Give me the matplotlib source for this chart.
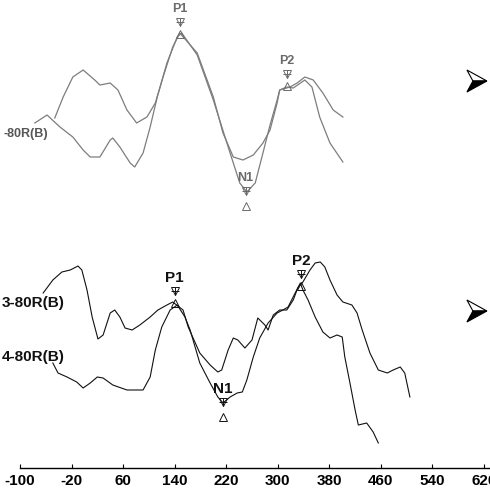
import numpy as np
import matplotlib.pyplot as plt
from matplotlib.patches import Polygon
from matplotlib.transforms import offset_copy, ScaledTranslation

plt.rcParams['font.family'] = ['Liberation Sans', 'DejaVu Sans']

# latency (ms) / amplitude (uV, relative to the trace baseline)
top_a_ms = [-46, -33, -18, -2, 16, 24, 40, 52, 66, 81, 97, 110, 122, 137, 148,
            175, 200, 215, 231, 246, 262, 277, 288, 299, 303, 319, 330, 342, 355, 370, 386, 401]
top_a_uv = [0.2, 2.3, 4.3, 5.0, 4.0, 3.5, 3.7, 3.0, 1.0, -0.3, 0.3, 1.7, 4.3, 7.3, 8.7,
            6.7, 2.3, -1.3, -3.7, -4.0, -3.5, -2.3, -1.0, 1.7, 3.0, 3.3, 3.7, 4.3, 4.0, 2.7, 1.0, 0.3]

top_b_ms = [-77, -58, -38, -18, -2, 9, 24, 40, 44, 55, 71, 78, 91, 102, 113, 128, 144, 151,
            175, 200, 226, 241, 252, 265, 277, 288, 299, 303, 314, 324, 342, 353, 365, 381, 401]
top_b_uv = [-0.3, 0.5, -0.7, -1.7, -3.0, -3.7, -3.7, -2.0, -1.8, -2.7, -4.3, -4.7, -3.3, -0.7, 2.3, 5.7, 8.3, 8.7,
            6.5, 2.0, -3.3, -6.3, -7.2, -6.3, -3.3, -0.5, 2.0, 3.0, 3.3, 3.2, 4.0, 3.3, 0.3, -2.3, -4.2]

# 3-80R(B)
bot_a_ms = [-64, -49, -35, -22, -10, -4, 4, 12, 21, 29, 40, 47, 55, 63, 74, 86, 102, 114, 128, 137,
            153, 161, 179, 195, 207, 213, 223, 231, 238, 249, 260, 269, 280, 285, 293, 303, 314, 324,
            331, 339, 350, 358, 366, 373, 381, 392, 401, 415, 423, 431, 443, 456, 470, 479, 490, 497, 505]
bot_a_uv = [3.7, 5.0, 5.8, 6.0, 6.4, 6.0, 4.0, 1.3, -0.9, -0.5, 1.7, 2.0, 1.3, 0.2, 0.0, 0.5, 1.3, 2.0, 2.5, 2.8,
            2.0, 0.3, -2.3, -3.5, -4.2, -4.0, -2.0, -0.8, -1.0, -1.8, -1.0, 1.2, 0.5, 0.0, 1.5, 2.0, 2.0, 3.0,
            4.2, 4.8, 6.0, 6.7, 6.8, 6.3, 5.0, 3.5, 2.8, 2.5, 1.7, 0.0, -2.3, -4.0, -4.3, -4.0, -3.7, -4.3, -6.7]

# 4-80R(B)
bot_b_ms = [-49, -41, -27, -12, -2, 9, 20, 29, 44, 66, 91, 102, 110, 120, 133, 144, 156, 164,
            179, 195, 207, 215, 226, 237, 245, 252, 262, 272, 285, 299, 308, 316, 327, 335, 339,
            347, 358, 370, 381, 392, 400, 404, 412, 420, 425, 438, 448, 456]
bot_b_uv = [-3.3, -4.3, -4.7, -5.2, -5.8, -5.3, -4.7, -4.8, -5.5, -6.0, -6.0, -4.7, -2.0, 0.3, 2.0, 2.5, 1.3, 0.0,
            -3.3, -5.3, -6.7, -7.3, -6.7, -6.3, -6.2, -5.0, -2.7, -0.8, 0.7, 1.7, 2.0, 2.3, 3.7, 4.7, 4.0,
            3.0, 1.3, -0.2, -0.8, -0.5, -0.7, -2.7, -5.3, -8.0, -9.5, -9.3, -10.2, -11.3]

peak_names = ['P1', 'N1', 'P2']
top_peak_ms = [148, 250, 314]
top_peak_uv = [8.7, -7.2, 3.5]
bot_peak_ms = [140, 215, 336]
bot_peak_uv = [2.8, -7.3, 4.5]

xticks = np.arange(-100, 621, 80)

top_offset = 0.0
bot_offset = -21.0

fig = plt.figure(figsize=(4.9, 4.94), dpi=100)
ax = fig.add_axes([0, 0, 1, 1])
ax.set_xlim(-131, 629.3)
ax.set_ylim(-37.4, 12)

grey = '#7d7d7d'
ax.plot(top_a_ms, np.array(top_a_uv) + top_offset, color=grey, lw=0.9)
ax.plot(top_b_ms, np.array(top_b_uv) + top_offset, color=grey, lw=0.9)
ax.plot(bot_a_ms, np.array(bot_a_uv) + bot_offset, color='#111111', lw=0.8)
ax.plot(bot_b_ms, np.array(bot_b_uv) + bot_offset, color='#111111', lw=0.8)


def mark_peaks(names, lat, amp, offset, color, fs):
    for name, x, y in zip(names, lat, amp):
        y = y + offset
        if name.startswith('P'):
            d_lab, d_dn, d_up = 17, 8, -1
        else:
            d_lab, d_dn, d_up = 10, 1, -10
        ax.annotate(name, (x, y), xytext=(0, d_lab), textcoords='offset points',
                    ha='center', va='center', fontsize=fs, color=color, fontweight='bold')
        tr_dn = offset_copy(ax.transData, fig=fig, x=0, y=d_dn, units='points')
        tr_up = offset_copy(ax.transData, fig=fig, x=0, y=d_up, units='points')
        ax.plot([x], [y], marker='v', ms=6, mfc='none', mec=color, mew=0.7, transform=tr_dn)
        ax.plot([x], [y], marker='+', ms=6, mec=color, mew=0.7, transform=tr_dn)
        ax.plot([x], [y], marker='^', ms=6, mfc='none', mec=color, mew=0.7, transform=tr_up)


mark_peaks(peak_names, top_peak_ms, top_peak_uv, top_offset, '#6a6a6a', 9)
mark_peaks(peak_names, bot_peak_ms, bot_peak_uv, bot_offset, '#111111', 11)

ax.text(-126, -1.4 + top_offset, '-80R(B)', fontsize=9, color='#555555', va='center', ha='left',
        fontweight='bold')
ax.text(-128, 2.7 + bot_offset, '3-80R(B)', fontsize=11, color='#111111', va='center', ha='left',
        fontweight='bold')
ax.text(-128, -2.7 + bot_offset, '4-80R(B)', fontsize=11, color='#111111', va='center', ha='left',
        fontweight='bold')

# 3-D arrowheads at the right edge (sizes in inches around an anchor point)
upper_half = np.array([[0.10, 0.0], [-0.10, 0.11], [-0.04, 0.0]])
lower_half = np.array([[0.10, 0.0], [-0.04, 0.0], [-0.10, -0.11]])
for y in [3.9 + top_offset, 1.9 + bot_offset]:
    tr = fig.dpi_scale_trans + ScaledTranslation(609, y, ax.transData)
    ax.add_patch(Polygon(upper_half, closed=True, facecolor='white', edgecolor='black',
                         lw=0.8, transform=tr, clip_on=False))
    ax.add_patch(Polygon(lower_half, closed=True, facecolor='black', edgecolor='black',
                         lw=0.8, transform=tr, clip_on=False))

for s in ['top', 'right', 'left']:
    ax.spines[s].set_visible(False)
ax.spines['bottom'].set_position(('data', -34.8))
ax.spines['bottom'].set_bounds(-100, 629.3)
ax.spines['bottom'].set_linewidth(1.0)
ax.set_xticks(xticks)
ax.set_xticklabels([str(t) for t in xticks], fontweight='bold')
ax.tick_params(axis='x', direction='in', length=3, pad=4, labelsize=11, colors='black')
ax.set_yticks([])

fig.savefig('out.png', dpi=100)
